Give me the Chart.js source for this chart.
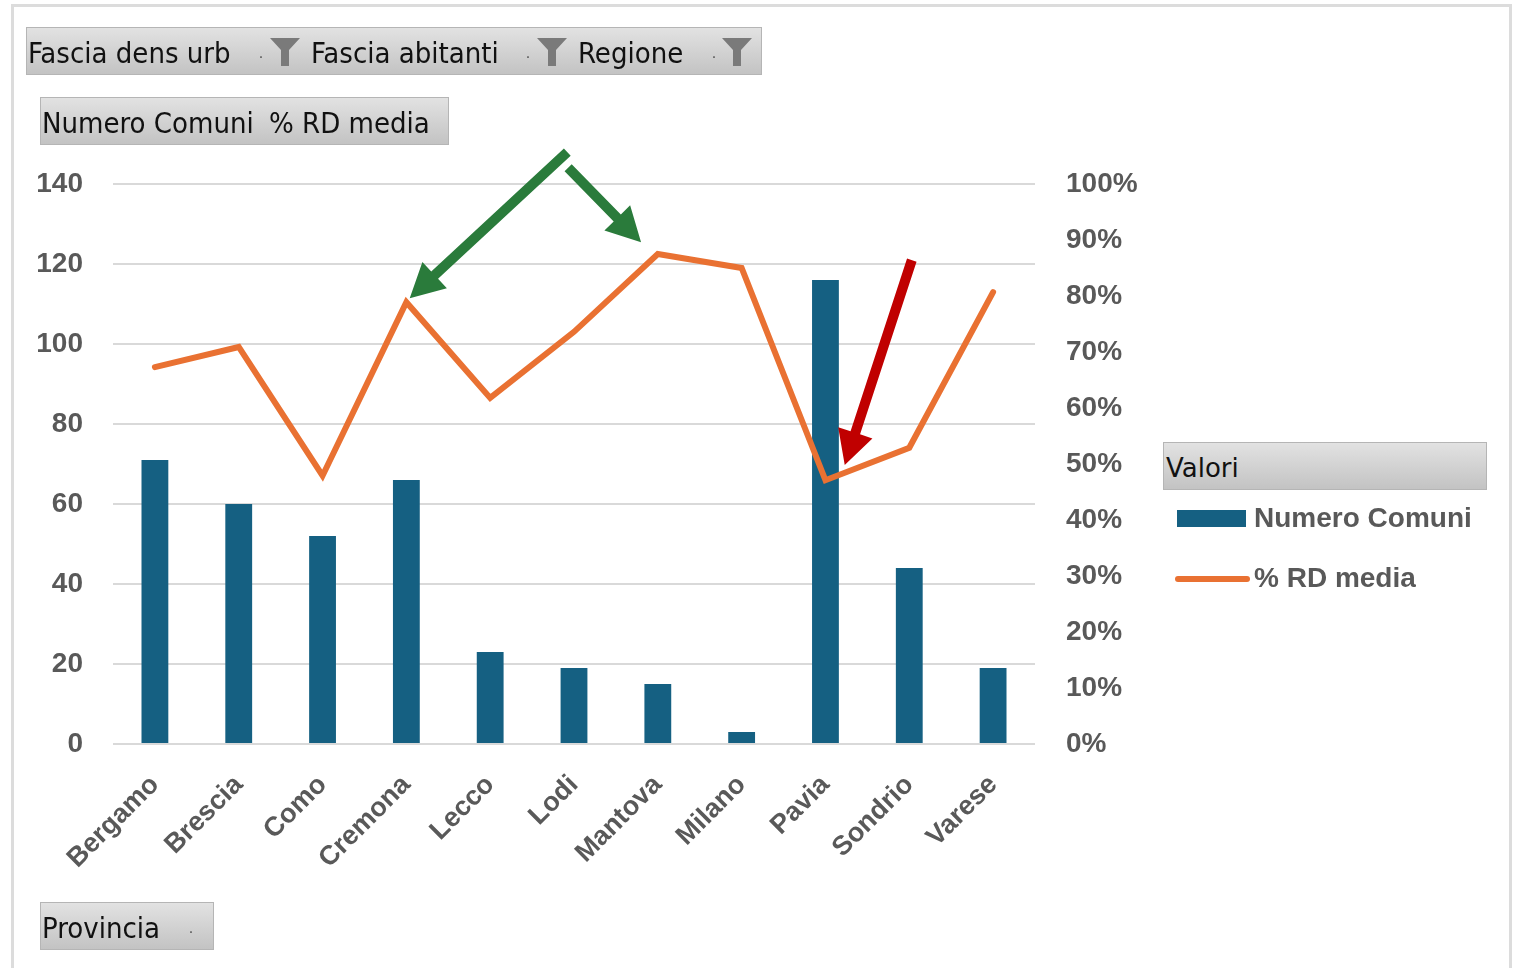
<!DOCTYPE html>
<html lang="it">
<head>
<meta charset="utf-8">
<title>Numero Comuni e % RD media per Provincia</title>
<script src="https://cdn.jsdelivr.net/npm/chart.js@4.4.1/dist/chart.umd.min.js"></script>
<style>
  html, body { margin: 0; padding: 0; background: #fff; }
  body { width: 1516px; height: 968px; position: relative; overflow: hidden; }
  #frame {
    position: absolute; left: 11px; top: 4px; width: 1501px; height: 980px;
    border: 3px solid #dcdcdc; box-sizing: border-box;
  }
  #chartWrap { position: absolute; left: 0; top: 0; width: 1516px; height: 968px; }
  .btn {
    position: absolute; height: 48px; box-sizing: border-box;
    background: linear-gradient(#e2e2e2, #c3c3c3);
    border: 1px solid #b5b5b5;
    font-family: "Liberation Sans Narrow", "DejaVu Sans Condensed", "Open Sans", sans-serif;
    font-size: 29px; color: #111; line-height: 50px; white-space: nowrap;
  }
  .btn span { position: absolute; top: 0; }
  .dot { position: absolute; top: 0; font-size: 14px; color: #444; }
  .funnel { position: absolute; top: 9px; }
  #legend { position: absolute; left: 1163px; top: 442px; }
  #legend .head {
    position: absolute; left: 0; top: 0; width: 324px; height: 48px; box-sizing: border-box;
    background: linear-gradient(#e2e2e2, #c3c3c3); border: 1px solid #b5b5b5;
    font-family: "DejaVu Sans", sans-serif; font-size: 26px; line-height: 50px; padding-left: 2px; color: #111;
  }
  #legend .item {
    position: absolute; left: 0; font-family: "Liberation Sans", Arial, sans-serif;
    font-weight: bold; font-size: 28px; color: #595959; white-space: nowrap;
  }
  #legend .sw { position: absolute; }
  #legend .lbl { position: absolute; left: 91px; top: 0; }
</style>
</head>
<body>
<div id="frame"></div>
<div id="chartWrap"><canvas id="chart" width="1516" height="968"></canvas></div>

<div class="btn" style="left:26px; top:27px; width:736px;">
  <span style="left:1px;">Fascia dens urb</span>
  <span class="dot" style="left:232px;">.</span>
  <svg class="funnel" style="left:242px;" width="32" height="30" viewBox="0 0 32 30">
    <path d="M1 1 H31 L20 13 V29 H12 V13 Z" fill="#7a7a7a"/>
  </svg>
  <span style="left:284px;">Fascia abitanti</span>
  <span class="dot" style="left:499px;">.</span>
  <svg class="funnel" style="left:509px;" width="32" height="30" viewBox="0 0 32 30">
    <path d="M1 1 H31 L20 13 V29 H12 V13 Z" fill="#7a7a7a"/>
  </svg>
  <span style="left:551px;">Regione</span>
  <span class="dot" style="left:685px;">.</span>
  <svg class="funnel" style="left:694px;" width="32" height="30" viewBox="0 0 32 30">
    <path d="M1 1 H31 L20 13 V29 H12 V13 Z" fill="#7a7a7a"/>
  </svg>
</div>

<div class="btn" style="left:40px; top:97px; width:409px;">
  <span style="left:1px;">Numero Comuni</span>
  <span style="left:228px;">% RD media</span>
</div>

<div class="btn" style="left:40px; top:902px; width:174px;">
  <span style="left:1px;">Provincia</span>
  <span class="dot" style="left:148px;">.</span>
</div>

<div id="legend"></div>

<script>
// Province della Lombardia
const province = ['Bergamo', 'Brescia', 'Como', 'Cremona', 'Lecco', 'Lodi',
                  'Mantova', 'Milano', 'Pavia', 'Sondrio', 'Varese'];

// Numero di comuni per provincia
const numeroComuni = [71, 60, 52, 66, 23, 19, 15, 3, 116, 44, 19];

// Raccolta differenziata media (%)
const rdMedia = [67.3, 70.9, 47.9, 78.9, 61.8, 73.6, 87.5, 85.0, 47.1, 52.9, 80.7];

// Frecce di evidenziazione: [indice provincia, % RD] di partenza e di arrivo
const arrowFrom = [[4.92, 105.7], [4.93, 102.9], [9.03, 86.4]];
const arrowTo   = [[3.04, 79.6],  [5.80, 89.6],  [8.23, 49.8]];
const arrowColors = ['#2a7b3b', '#2a7b3b', '#c00000'];

const BLUE = '#156082';
const ORANGE = '#e97132';
const TICK_COLOR = '#595959';
const tickFont = { family: '"Liberation Sans", Arial, sans-serif', size: 28, weight: 'bold' };

const arrowPlugin = {
  id: 'arrows',
  afterDatasetsDraw(chart) {
    const { ctx, scales: { x, y1 } } = chart;
    ctx.save();
    arrowFrom.forEach((from, i) => {
      const x0 = x.getPixelForValue(from[0]), y0 = y1.getPixelForValue(from[1]);
      const x1 = x.getPixelForValue(arrowTo[i][0]), y1p = y1.getPixelForValue(arrowTo[i][1]);
      const ang = Math.atan2(y1p - y0, x1 - x0);
      const headLen = 34, headW = 18, shaftW = 5;
      const bx = x1 - headLen * Math.cos(ang), by = y1p - headLen * Math.sin(ang);
      const nx = -Math.sin(ang), ny = Math.cos(ang);
      ctx.fillStyle = arrowColors[i];
      ctx.beginPath();
      ctx.moveTo(x0 + nx * shaftW, y0 + ny * shaftW);
      ctx.lineTo(bx + nx * shaftW, by + ny * shaftW);
      ctx.lineTo(bx + nx * headW, by + ny * headW);
      ctx.lineTo(x1, y1p);
      ctx.lineTo(bx - nx * headW, by - ny * headW);
      ctx.lineTo(bx - nx * shaftW, by - ny * shaftW);
      ctx.lineTo(x0 - nx * shaftW, y0 - ny * shaftW);
      ctx.closePath();
      ctx.fill();
    });
    ctx.restore();
  }
};

const chart = new Chart(document.getElementById('chart'), {
  data: {
    labels: province,
    datasets: [
      {
        type: 'line',
        label: '% RD media',
        data: rdMedia,
        yAxisID: 'y1',
        borderColor: ORANGE,
        borderWidth: 6,
        borderCapStyle: 'round',
        borderJoinStyle: 'miter',
        pointRadius: 0,
        tension: 0,
        order: 1
      },
      {
        type: 'bar',
        label: 'Numero Comuni',
        data: numeroComuni,
        yAxisID: 'y',
        backgroundColor: BLUE,
        categoryPercentage: 1,
        barPercentage: 0.32,
        order: 2
      }
    ]
  },
  options: {
    responsive: false,
    animation: false,
    events: [],
    layout: { padding: { top: 184, left: 0, right: 0, bottom: 0 } },
    plugins: {
      legend: { display: false },
      tooltip: { enabled: false }
    },
    scales: {
      x: {
        grid: { display: false },
        border: { display: false },
        ticks: {
          color: TICK_COLOR,
          font: { ...tickFont, size: 27 },
          minRotation: 45,
          maxRotation: 45,
          padding: 17
        },
        afterFit(scale) { scale.height = 224; }
      },
      y: {
        position: 'left',
        min: 0,
        max: 140,
        border: { display: false },
        grid: { color: '#d9d9d9', lineWidth: 2, drawTicks: false },
        ticks: { stepSize: 20, color: TICK_COLOR, font: tickFont, padding: 30 },
        afterFit(scale) { scale.width = 113; }
      },
      y1: {
        position: 'right',
        min: 0,
        max: 100,
        border: { display: false },
        grid: { display: false, drawTicks: false },
        ticks: {
          stepSize: 10,
          color: TICK_COLOR,
          font: tickFont,
          padding: 31,
          callback: v => v + '%'
        },
        afterFit(scale) { scale.width = 481; }
      }
    }
  },
  plugins: [arrowPlugin]
});

// Legenda costruita dai dataset del grafico
const legend = document.getElementById('legend');
legend.innerHTML = '<div class="head">Valori</div>';
[chart.data.datasets[1], chart.data.datasets[0]].forEach((ds, i) => {
  const item = document.createElement('div');
  item.className = 'item';
  item.style.top = (60 + i * 60) + 'px';
  const sw = document.createElement('div');
  sw.className = 'sw';
  if (ds.type === 'bar') {
    Object.assign(sw.style, { left: '14px', top: '8px', width: '69px', height: '17px', background: ds.backgroundColor });
  } else {
    Object.assign(sw.style, { left: '12px', top: '14px', width: '75px', height: '6px', background: ds.borderColor, borderRadius: '3px' });
  }
  const lbl = document.createElement('span');
  lbl.className = 'lbl';
  lbl.textContent = ds.label;
  item.appendChild(sw);
  item.appendChild(lbl);
  legend.appendChild(item);
});
</script>
</body>
</html>
